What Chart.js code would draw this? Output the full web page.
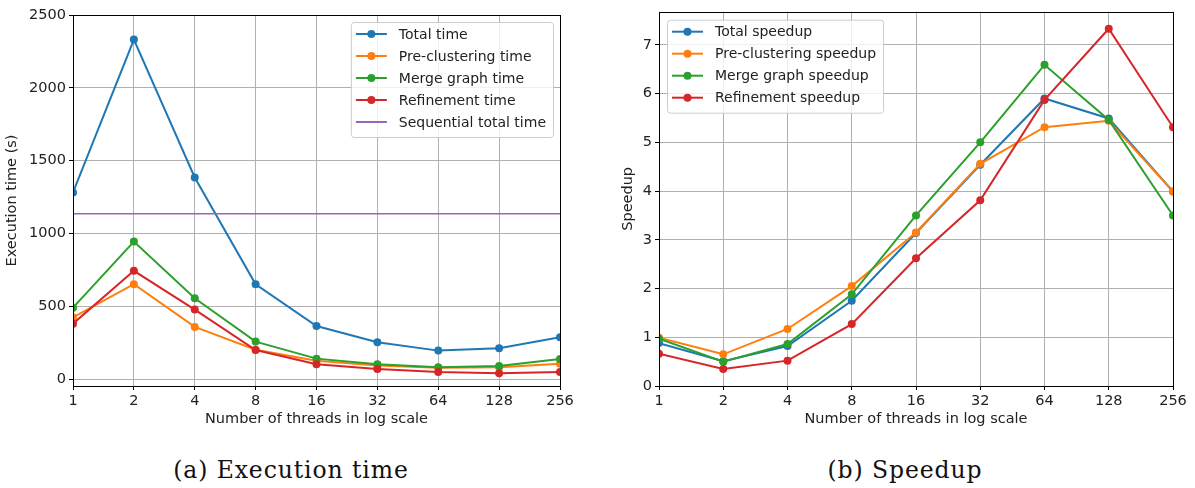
<!DOCTYPE html>
<html lang="en">
<head>
  <meta charset="UTF-8">
  <title>Execution time and speedup</title>
  <style>
    body, html {
      margin: 0;
      padding: 0;
      background: #fff;
      width: 1195px;
      height: 488px;
      overflow: hidden;
    }
    .panel {
      position: absolute;
      top: 0;
      height: 440px;
    }
    #left { left: 0; width: 580px; }
    #right { left: 590px; width: 605px; }
    .caption {
      position: absolute;
      top: 455px;
      font-family: "DejaVu Serif", "Liberation Serif", serif;
      font-size: 23.5px;
      letter-spacing: 0.9px;
      line-height: 30px;
      color: #111;
      transform: translateX(-50%);
      white-space: nowrap;
    }
  </style>
</head>
<body>
  <div class="panel" id="left"><canvas id="timeChart"></canvas></div>
  <div class="panel" id="right"><canvas id="speedChart"></canvas></div>
  <div class="caption" style="left: 291px;">(a) Execution time</div>
  <div class="caption" style="left: 905px;">(b) Speedup</div>

  <script src="https://cdn.jsdelivr.net/npm/chart.js"></script>
  <script>
    // data
    var threads = [1, 2, 4, 8, 16, 32, 64, 128, 256];

    var totalTime = [1281, 2331, 1384, 651, 364, 252, 195, 211, 287];
    var preTime = [424, 651, 358, 201, 126, 92, 78, 80, 105];
    var mergeTime = [490, 944, 555, 257, 140, 101, 80, 89, 137];
    var refineTime = [380, 743, 477, 199, 101, 69, 48, 39, 48];
    var seqTotalTime = 1135;

    var totalSpeedup = [0.88, 0.51, 0.82, 1.75, 3.14, 4.54, 5.90, 5.49, 3.99];
    var preSpeedup = [0.99, 0.65, 1.17, 2.05, 3.15, 4.56, 5.31, 5.44, 3.99];
    var mergeSpeedup = [0.97, 0.50, 0.86, 1.88, 3.50, 5.00, 6.59, 5.46, 3.50];
    var refineSpeedup = [0.66, 0.35, 0.52, 1.27, 2.62, 3.81, 5.87, 7.33, 5.31];

    var timeTicks = [0, 500, 1000, 1500, 2000, 2500];
    var speedTicks = [0, 1, 2, 3, 4, 5, 6, 7];

    var C = ['#1f77b4', '#ff7f0e', '#2ca02c', '#d62728', '#9467bd'];
    var FONT = 'DejaVu Sans';

    function pts(ys) {
      return threads.map(function (t, i) { return { x: t, y: ys[i] }; });
    }

    function series(label, ys, color, order) {
      return {
        label: label,
        data: pts(ys),
        borderColor: color,
        backgroundColor: color,
        borderWidth: 2,
        pointRadius: 4,
        pointHoverRadius: 4,
        pointBorderWidth: 0,
        tension: 0,
        clip: 0,
        order: order
      };
    }

    // matplotlib-like frame + legend inside the axes
    var mplPlugin = {
      id: 'mpl',
      afterDraw: function (chart, args, opts) {
        var ctx = chart.ctx, a = chart.chartArea;
        ctx.save();
        ctx.strokeStyle = '#000';
        ctx.lineWidth = 1;
        ctx.strokeRect(Math.round(a.left) + 0.5, Math.round(a.top) + 0.5,
          Math.round(a.right - a.left), Math.round(a.bottom - a.top));

        ctx.font = '14px "' + FONT + '"';
        var ds = chart.data.datasets;
        var textW = 0;
        ds.forEach(function (d) { textW = Math.max(textW, ctx.measureText(d.label).width); });
        var rowH = 22;
        var w = 5 + 31 + 12 + textW + 7;
        var h = ds.length * rowH + 5;
        var x = opts.corner === 'ne' ? a.right - opts.inset - w : a.left + opts.inset;
        var y = a.top + opts.inset;

        ctx.fillStyle = 'rgba(255,255,255,0.8)';
        ctx.strokeStyle = '#cccccc';
        ctx.beginPath();
        ctx.roundRect(x + 0.5, y + 0.5, w, h, 3);
        ctx.fill();
        ctx.stroke();

        ds.forEach(function (d, i) {
          var cy = y + 12 + i * rowH;
          ctx.strokeStyle = d.borderColor;
          ctx.lineWidth = 2;
          ctx.beginPath();
          ctx.moveTo(x + 5, cy);
          ctx.lineTo(x + 36, cy);
          ctx.stroke();
          if (d.pointRadius > 0) {
            ctx.fillStyle = d.borderColor;
            ctx.beginPath();
            ctx.arc(x + 20.5, cy, 4, 0, Math.PI * 2);
            ctx.fill();
          }
          ctx.fillStyle = '#222';
          ctx.textBaseline = 'middle';
          ctx.fillText(d.label, x + 48, cy + 1);
        });
        ctx.restore();
      }
    };

    function xAxis() {
      return {
        type: 'logarithmic',
        min: 1,
        max: 256,
        afterBuildTicks: function (s) { s.ticks = threads.map(function (v) { return { value: v }; }); },
        afterFit: function (s) { s.height = 46; },
        ticks: {
          color: '#222',
          font: { family: FONT, size: 14.5 },
          maxRotation: 0,
          autoSkip: false,
          padding: 3,
          callback: function (v) { return String(v); }
        },
        grid: { color: '#b0b0b0', lineWidth: 1, tickColor: '#000', tickLength: 4 },
        border: { display: false },
        title: {
          display: true,
          text: 'Number of threads in log scale',
          color: '#222',
          font: { family: FONT, size: 14.5 },
          padding: { top: 2, bottom: 4 }
        }
      };
    }

    function yAxis(min, max, ticks, title, width) {
      return {
        type: 'linear',
        min: min,
        max: max,
        afterBuildTicks: function (s) { s.ticks = ticks.map(function (v) { return { value: v }; }); },
        afterFit: function (s) { s.width = width; },
        ticks: {
          color: '#222',
          font: { family: FONT, size: 14.5 },
          padding: 3,
          callback: function (v) { return String(v); }
        },
        grid: { color: '#b0b0b0', lineWidth: 1, tickColor: '#000', tickLength: 4 },
        border: { display: false },
        title: {
          display: true,
          text: title,
          color: '#222',
          font: { family: FONT, size: 14.5 },
          padding: { top: 4, bottom: 4 }
        }
      };
    }

    var seq = series('Sequential total time', threads.map(function () { return seqTotalTime; }), C[4], -1);
    seq.pointRadius = 0;
    seq.pointHoverRadius = 0;
    seq.borderWidth = 1.5;

    new Chart(document.getElementById('timeChart'), {
      type: 'line',
      data: {
        datasets: [
          series('Total time', totalTime, C[0], 3),
          series('Pre-clustering time', preTime, C[1], 2),
          series('Merge graph time', mergeTime, C[2], 1),
          series('Refinement time', refineTime, C[3], 0),
          seq
        ]
      },
      options: {
        responsive: true,
        maintainAspectRatio: false,
        animation: false,
        layout: { padding: { top: 15, right: 20, bottom: 8, left: 0 } },
        scales: {
          x: xAxis(),
          y: yAxis(-48, 2500, timeTicks, 'Execution time (s)', 73)
        },
        plugins: {
          legend: { display: false },
          tooltip: { enabled: false },
          mpl: { corner: 'ne', inset: 7 }
        }
      },
      plugins: [mplPlugin]
    });

    new Chart(document.getElementById('speedChart'), {
      type: 'line',
      data: {
        datasets: [
          series('Total speedup', totalSpeedup, C[0], 3),
          series('Pre-clustering speedup', preSpeedup, C[1], 2),
          series('Merge graph speedup', mergeSpeedup, C[2], 1),
          series('Refinement speedup', refineSpeedup, C[3], 0)
        ]
      },
      options: {
        responsive: true,
        maintainAspectRatio: false,
        animation: false,
        layout: { padding: { top: 9, right: 22, bottom: 8, left: 26 } },
        scales: {
          x: xAxis(),
          y: yAxis(0, 7.68, speedTicks, 'Speedup', 43)
        },
        plugins: {
          legend: { display: false },
          tooltip: { enabled: false },
          mpl: { corner: 'nw', inset: 8 }
        }
      },
      plugins: [mplPlugin]
    });
  </script>
</body>
</html>
